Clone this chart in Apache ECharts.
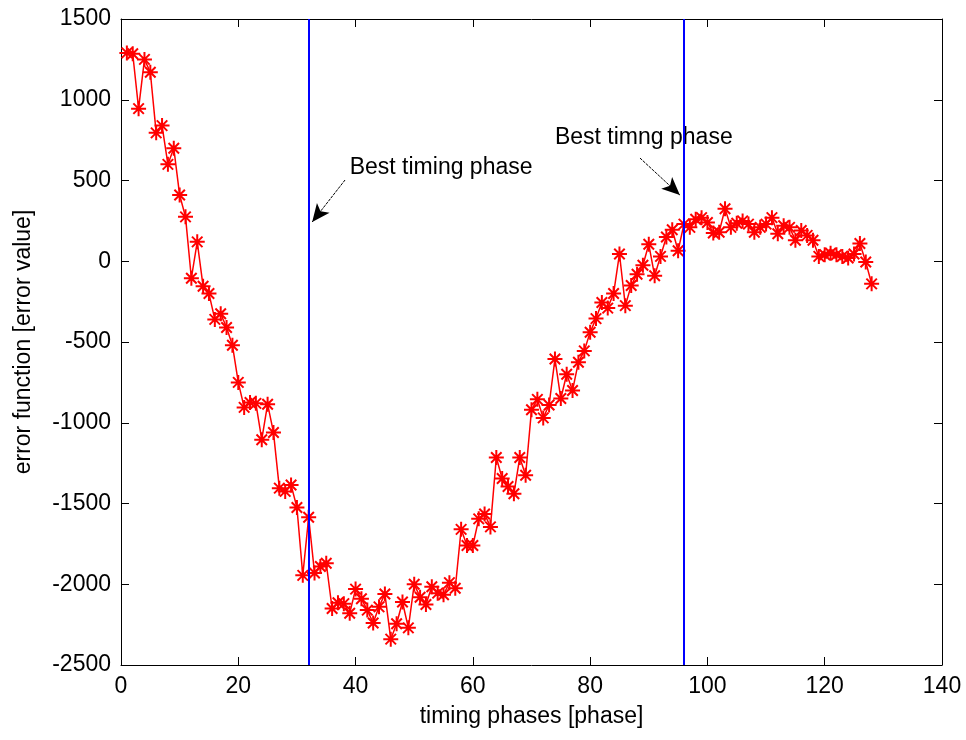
<!DOCTYPE html>
<html>
<head>
<meta charset="utf-8">
<script src="https://cdn.jsdelivr.net/npm/echarts@6/dist/echarts.min.js"></script>
<style>
  html, body { margin: 0; padding: 0; background: #fff; }
  #chart { width: 966px; height: 740px; }
</style>
</head>
<body>
<div id="chart"></div>
<script>
// error function value for timing phases 1..128
const phases = Array.from({ length: 128 }, (_, i) => i + 1);
const errorValues = [
  1290, 1285, 945, 1250, 1170, 795, 840, 600, 700, 410,
  275, -105, 120, -155, -200, -360, -325, -410, -520, -750,
  -905, -875, -880, -1105, -885, -1060, -1405, -1425, -1385, -1525,
  -1945, -1585, -1930, -1890, -1870, -2150, -2115, -2120, -2180, -2030,
  -2090, -2160, -2240, -2140, -2060, -2340, -2245, -2110, -2270, -2000,
  -2080, -2125, -2015, -2055, -2065, -1990, -2025, -1660, -1760, -1760,
  -1595, -1565, -1645, -1215, -1345, -1395, -1440, -1215, -1325, -920,
  -855, -970, -890, -605, -850, -700, -800, -625, -555, -440,
  -355, -255, -290, -200, 45, -275, -150, -80, -25, 105,
  -90, 30, 150, 195, 65, 230, 210, 260, 270, 240,
  175, 180, 325, 210, 235, 250, 230, 180, 210, 230,
  270, 170, 220, 210, 130, 190, 160, 130, 30, 40,
  50, 40, 30, 20, 45, 110, -5, -140
];
const bestPhases = [32, 96];

// annotations: [text, text anchor x, y, arrow start x, y, arrow tip x, y] in data units
const notes = [
  ['Best timing phase', 39.0, 577, 38.2, 503, 32.6, 243],
  ['Best timng phase', 74.0, 763, 88.5, 639, 95.3, 410]
];

const FONT = 'Liberation Sans, Arial, sans-serif';
const FS = 23;
const asterisk = 'path://M0,5L10,5M5,0L5,10M1.5,1.5L8.5,8.5M8.5,1.5L1.5,8.5';

const chart = echarts.init(document.getElementById('chart'));

const tickStyle = { inside: true, length: 8, lineStyle: { color: '#000', width: 1 } };
const labelStyle = {
  color: '#000', fontSize: FS, fontFamily: FONT, margin: 10,
  formatter: v => String(v)
};

const option = {
  animation: false,
  backgroundColor: '#fff',
  grid: { left: 121, right: 24, top: 19, bottom: 75, show: false },
  xAxis: [
    {
      type: 'value', min: 0, max: 140, interval: 20,
      name: 'timing phases [phase]', nameLocation: 'middle', nameGap: 40,
      nameTextStyle: { color: '#000', fontSize: FS, fontFamily: FONT },
      axisLine: { show: true, onZero: false, lineStyle: { color: '#000', width: 1 } },
      axisTick: tickStyle,
      axisLabel: labelStyle,
      splitLine: { show: false }
    },
    {
      type: 'value', min: 0, max: 140, interval: 20, position: 'top',
      axisLine: { show: true, onZero: false, lineStyle: { color: '#000', width: 1 } },
      axisTick: tickStyle,
      axisLabel: { show: false },
      splitLine: { show: false }
    }
  ],
  yAxis: [
    {
      type: 'value', min: -2500, max: 1500, interval: 500,
      name: 'error function [error value]', nameLocation: 'middle', nameGap: 86,
      nameTextStyle: { color: '#000', fontSize: FS, fontFamily: FONT },
      axisLine: { show: true, onZero: false, lineStyle: { color: '#000', width: 1 } },
      axisTick: tickStyle,
      axisLabel: labelStyle,
      splitLine: { show: false }
    },
    {
      type: 'value', min: -2500, max: 1500, interval: 500, position: 'right',
      axisLine: { show: true, onZero: false, lineStyle: { color: '#000', width: 1 } },
      axisTick: tickStyle,
      axisLabel: { show: false },
      splitLine: { show: false }
    }
  ],
  series: [
    {
      type: 'line',
      data: phases.map((p, i) => [p, errorValues[i]]),
      symbol: asterisk,
      symbolSize: 15,
      showAllSymbol: true,
      lineStyle: { color: '#ff0000', width: 1.5 },
      itemStyle: { color: '#ff0000', borderColor: '#ff0000', borderWidth: 2 },
      z: 3,
      markLine: {
        silent: true,
        symbol: ['none', 'none'],
        label: { show: false },
        lineStyle: { color: '#0000ff', width: 2, type: 'solid' },
        data: bestPhases.map(x => ({ xAxis: x }))
      }
    },
    {
      type: 'line',
      data: [],
      markLine: {
        silent: true,
        symbol: ['none', 'arrow'],
        symbolSize: [12, 18],
        label: { show: false },
        lineStyle: { color: '#000', width: 1, type: [3, 1] },
        itemStyle: { color: '#000' },
        data: notes.map(n => [{ coord: [n[3], n[4]] }, { coord: [n[5], n[6]] }])
      }
    }
  ]
};

chart.setOption(option);

// place the annotation texts at data positions
chart.setOption({
  graphic: notes.map(n => {
    const pt = chart.convertToPixel({ gridIndex: 0 }, [n[1], n[2]]);
    return {
      type: 'text', x: pt[0], y: pt[1],
      style: { text: n[0], fill: '#000', fontSize: FS, fontFamily: FONT, verticalAlign: 'middle' }
    };
  })
});
</script>
</body>
</html>
